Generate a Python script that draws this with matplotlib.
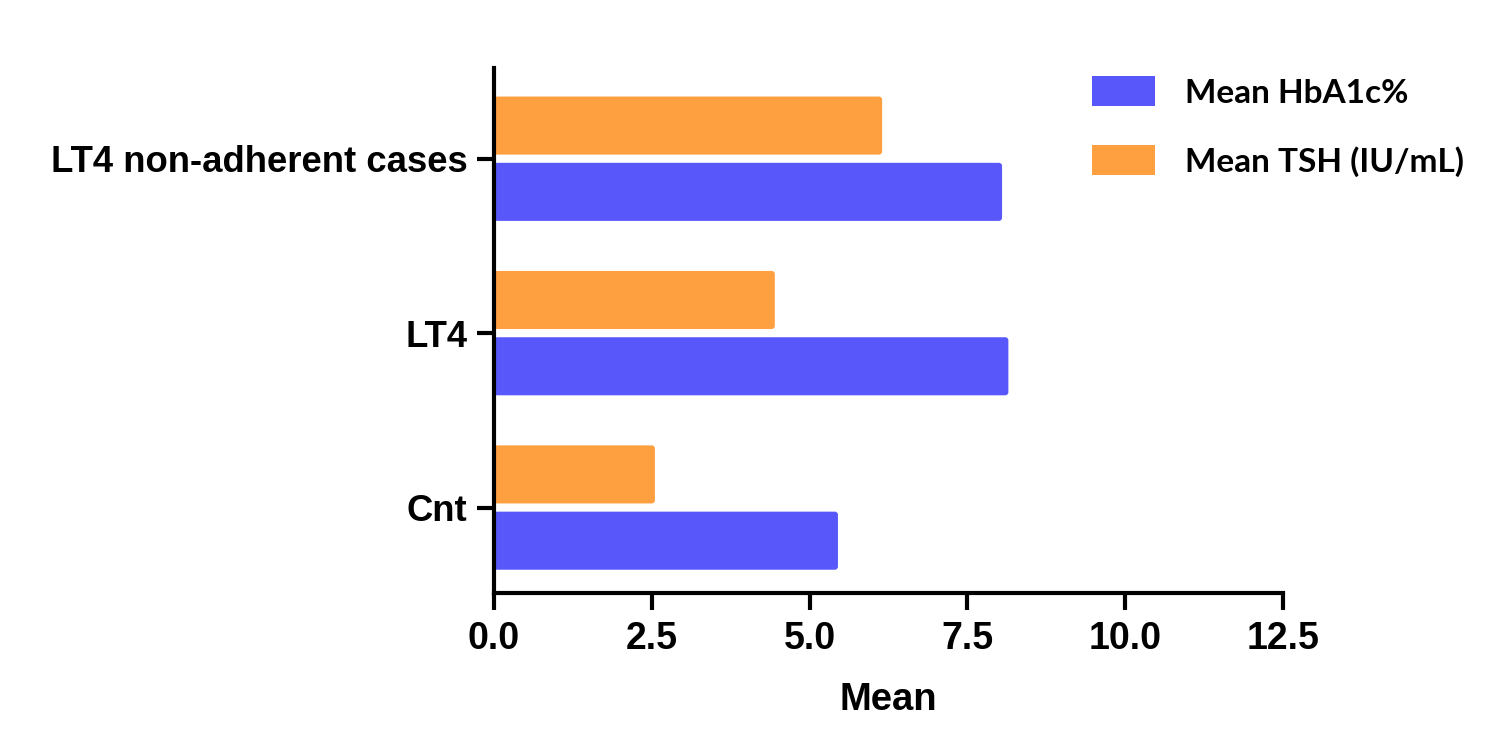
import numpy as np
import matplotlib
matplotlib.use('Agg')
import matplotlib.pyplot as plt
from matplotlib.patches import FancyBboxPatch, Patch

groups = ['Cnt', 'LT4', 'LT4 non-adherent cases']
hba1c = [5.45, 8.15, 8.05]
tsh = [2.55, 4.45, 6.15]
xticks = [0.0, 2.5, 5.0, 7.5, 10.0, 12.5]

blue = '#5858FA'
orange = '#FFA040'

fig = plt.figure(figsize=(15, 7.54), dpi=100)
ax = fig.add_axes([0.3293, 0.2135, 0.8553 - 0.3293, 0.9098 - 0.2135])

y = np.arange(len(groups))
h = 0.333
off = 0.19
b1 = ax.barh(y - off, hba1c, height=h, color=blue)
b2 = ax.barh(y + off, tsh, height=h, color=orange)

# slightly rounded bar corners
for bars in (b1, b2):
    for r in bars:
        r.set_visible(False)
        fb = FancyBboxPatch((r.get_x(), r.get_y()), r.get_width(), r.get_height(),
                            boxstyle='round,pad=0,rounding_size=0.05',
                            mutation_aspect=0.36, facecolor=r.get_facecolor(),
                            edgecolor='none', zorder=2)
        ax.add_patch(fb)

ax.set_xlim(0, 12.5)
ax.set_ylim(-0.49, 2.52)
ax.set_xticks(xticks)
ax.set_xticklabels([f'{v:.1f}' for v in xticks], fontfamily='Liberation Sans',
                   fontweight='bold', fontsize=27)
ax.set_yticks(y)
ax.set_yticklabels(groups, fontfamily='Liberation Sans', fontweight='bold', fontsize=26.3)
ax.set_xlabel('Mean', fontfamily='Liberation Sans', fontweight='bold', fontsize=27.5,
              labelpad=18)

for s in ['top', 'right']:
    ax.spines[s].set_visible(False)
for s in ['left', 'bottom']:
    ax.spines[s].set_linewidth(3)
    ax.spines[s].set_zorder(3)
ax.tick_params(axis='both', width=3, length=12, direction='out')
ax.tick_params(axis='x', pad=8)
ax.tick_params(axis='y', pad=7)

handles = [Patch(facecolor=blue, edgecolor='none'),
           Patch(facecolor=orange, edgecolor='none')]
labels = ['Mean HbA1c%', 'Mean TSH (IU/mL)']
leg = ax.legend(handles, labels, loc='upper left', bbox_to_anchor=(0.72, 1.041),
                frameon=False, prop={'family': 'Lato', 'weight': 'bold', 'size': 24},
                handlelength=1.9, handleheight=1.0, handletextpad=0.88,
                labelspacing=1.12)

fig.savefig('out.png', dpi=100)
